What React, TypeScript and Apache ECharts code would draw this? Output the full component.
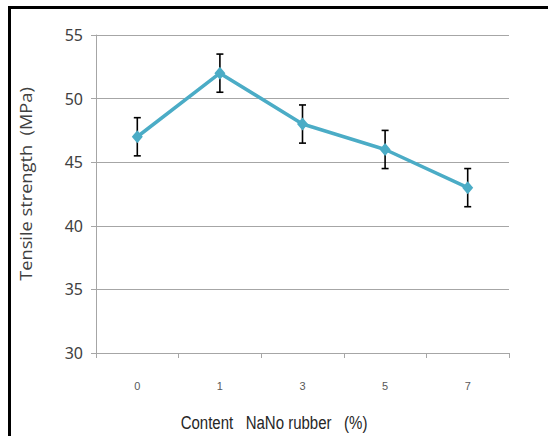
import React, { useEffect, useRef } from "react";
import * as echarts from "echarts";

// NaNo rubber content (%) and the measured tensile strength (MPa)
const contents = ["0", "1", "3", "5", "7"];
const strength = [47, 52, 48, 46, 43];
const strengthError = [1.5, 1.5, 1.5, 1.5, 1.5];
const yTicks = { min: 30, max: 55, interval: 5 };

const xTitle = "Content   NaNo rubber   (%)";
const yTitle = "Tensile strength  (MPa)";

const LINE_COLOR = "#4BACC6";

export default function App() {
  const ref = useRef<HTMLDivElement>(null);

  useEffect(() => {
    if (!ref.current) return;
    const chart = echarts.init(ref.current, null, { renderer: "svg" });

    const errorData = strength.map((v, i) => [i, v - strengthError[i], v + strengthError[i]]);

    chart.setOption({
      animation: false,
      backgroundColor: "#ffffff",
      grid: { left: 96, right: 39, top: 35, bottom: 83, containLabel: false },
      xAxis: {
        type: "category",
        data: contents,
        boundaryGap: true,
        axisLine: { lineStyle: { color: "#a6a6a6", width: 1 } },
        axisTick: { show: true, length: 5, lineStyle: { color: "#a6a6a6" } },
        axisLabel: {
          margin: 27,
          color: "#595959",
          fontSize: 11,
          fontFamily: "Liberation Sans, sans-serif",
        },
        splitLine: { show: false },
      },
      yAxis: {
        type: "value",
        min: yTicks.min,
        max: yTicks.max,
        interval: yTicks.interval,
        axisLine: { show: true, lineStyle: { color: "#a6a6a6", width: 1 } },
        axisTick: { show: true, length: 5, lineStyle: { color: "#a6a6a6" } },
        axisLabel: {
          margin: 13,
          color: "#404040",
          fontSize: 16,
          fontFamily: "Noto Sans, sans-serif",
        },
        splitLine: { show: true, lineStyle: { color: "#a6a6a6", width: 1 } },
      },
      series: [
        {
          type: "custom",
          z: 1,
          data: errorData,
          renderItem: (_params: any, api: any) => {
            const x = api.value(0);
            const lo = api.coord([x, api.value(1)]);
            const hi = api.coord([x, api.value(2)]);
            const cap = 3.5;
            const style = { stroke: "#000000", lineWidth: 1.6 };
            return {
              type: "group",
              children: [
                { type: "line", shape: { x1: hi[0], y1: hi[1], x2: lo[0], y2: lo[1] }, style },
                { type: "line", shape: { x1: hi[0] - cap, y1: hi[1], x2: hi[0] + cap, y2: hi[1] }, style },
                { type: "line", shape: { x1: lo[0] - cap, y1: lo[1], x2: lo[0] + cap, y2: lo[1] }, style },
              ],
            };
          },
        },
        {
          type: "line",
          z: 3,
          data: strength,
          symbol: "diamond",
          symbolSize: [11, 13],
          lineStyle: { color: LINE_COLOR, width: 3.5 },
          itemStyle: { color: LINE_COLOR },
        },
      ],
      graphic: [
        {
          type: "rect",
          shape: { x: 9.5, y: 7.5, width: 600, height: 500 },
          style: { fill: "none", stroke: "#000000", lineWidth: 3 },
          silent: true,
        },
        {
          type: "text",
          x: 26,
          y: 184,
          rotation: Math.PI / 2,
          scaleX: 1.14,
          style: {
            text: yTitle,
            fill: "#404040",
            fontSize: 16,
            fontFamily: "Open Sans, sans-serif",
            align: "center",
            verticalAlign: "middle",
          },
        },
        {
          type: "text",
          x: 274,
          y: 423,
          scaleX: 0.79,
          style: {
            text: xTitle,
            fill: "#262626",
            fontSize: 19,
            fontFamily: "Liberation Sans, sans-serif",
            align: "center",
            verticalAlign: "middle",
          },
        },
      ],
    });

    return () => chart.dispose();
  }, []);

  return (
    <div
      ref={ref}
      style={{ position: "fixed", left: 0, top: 0, width: 548, height: 436 }}
    />
  );
}
